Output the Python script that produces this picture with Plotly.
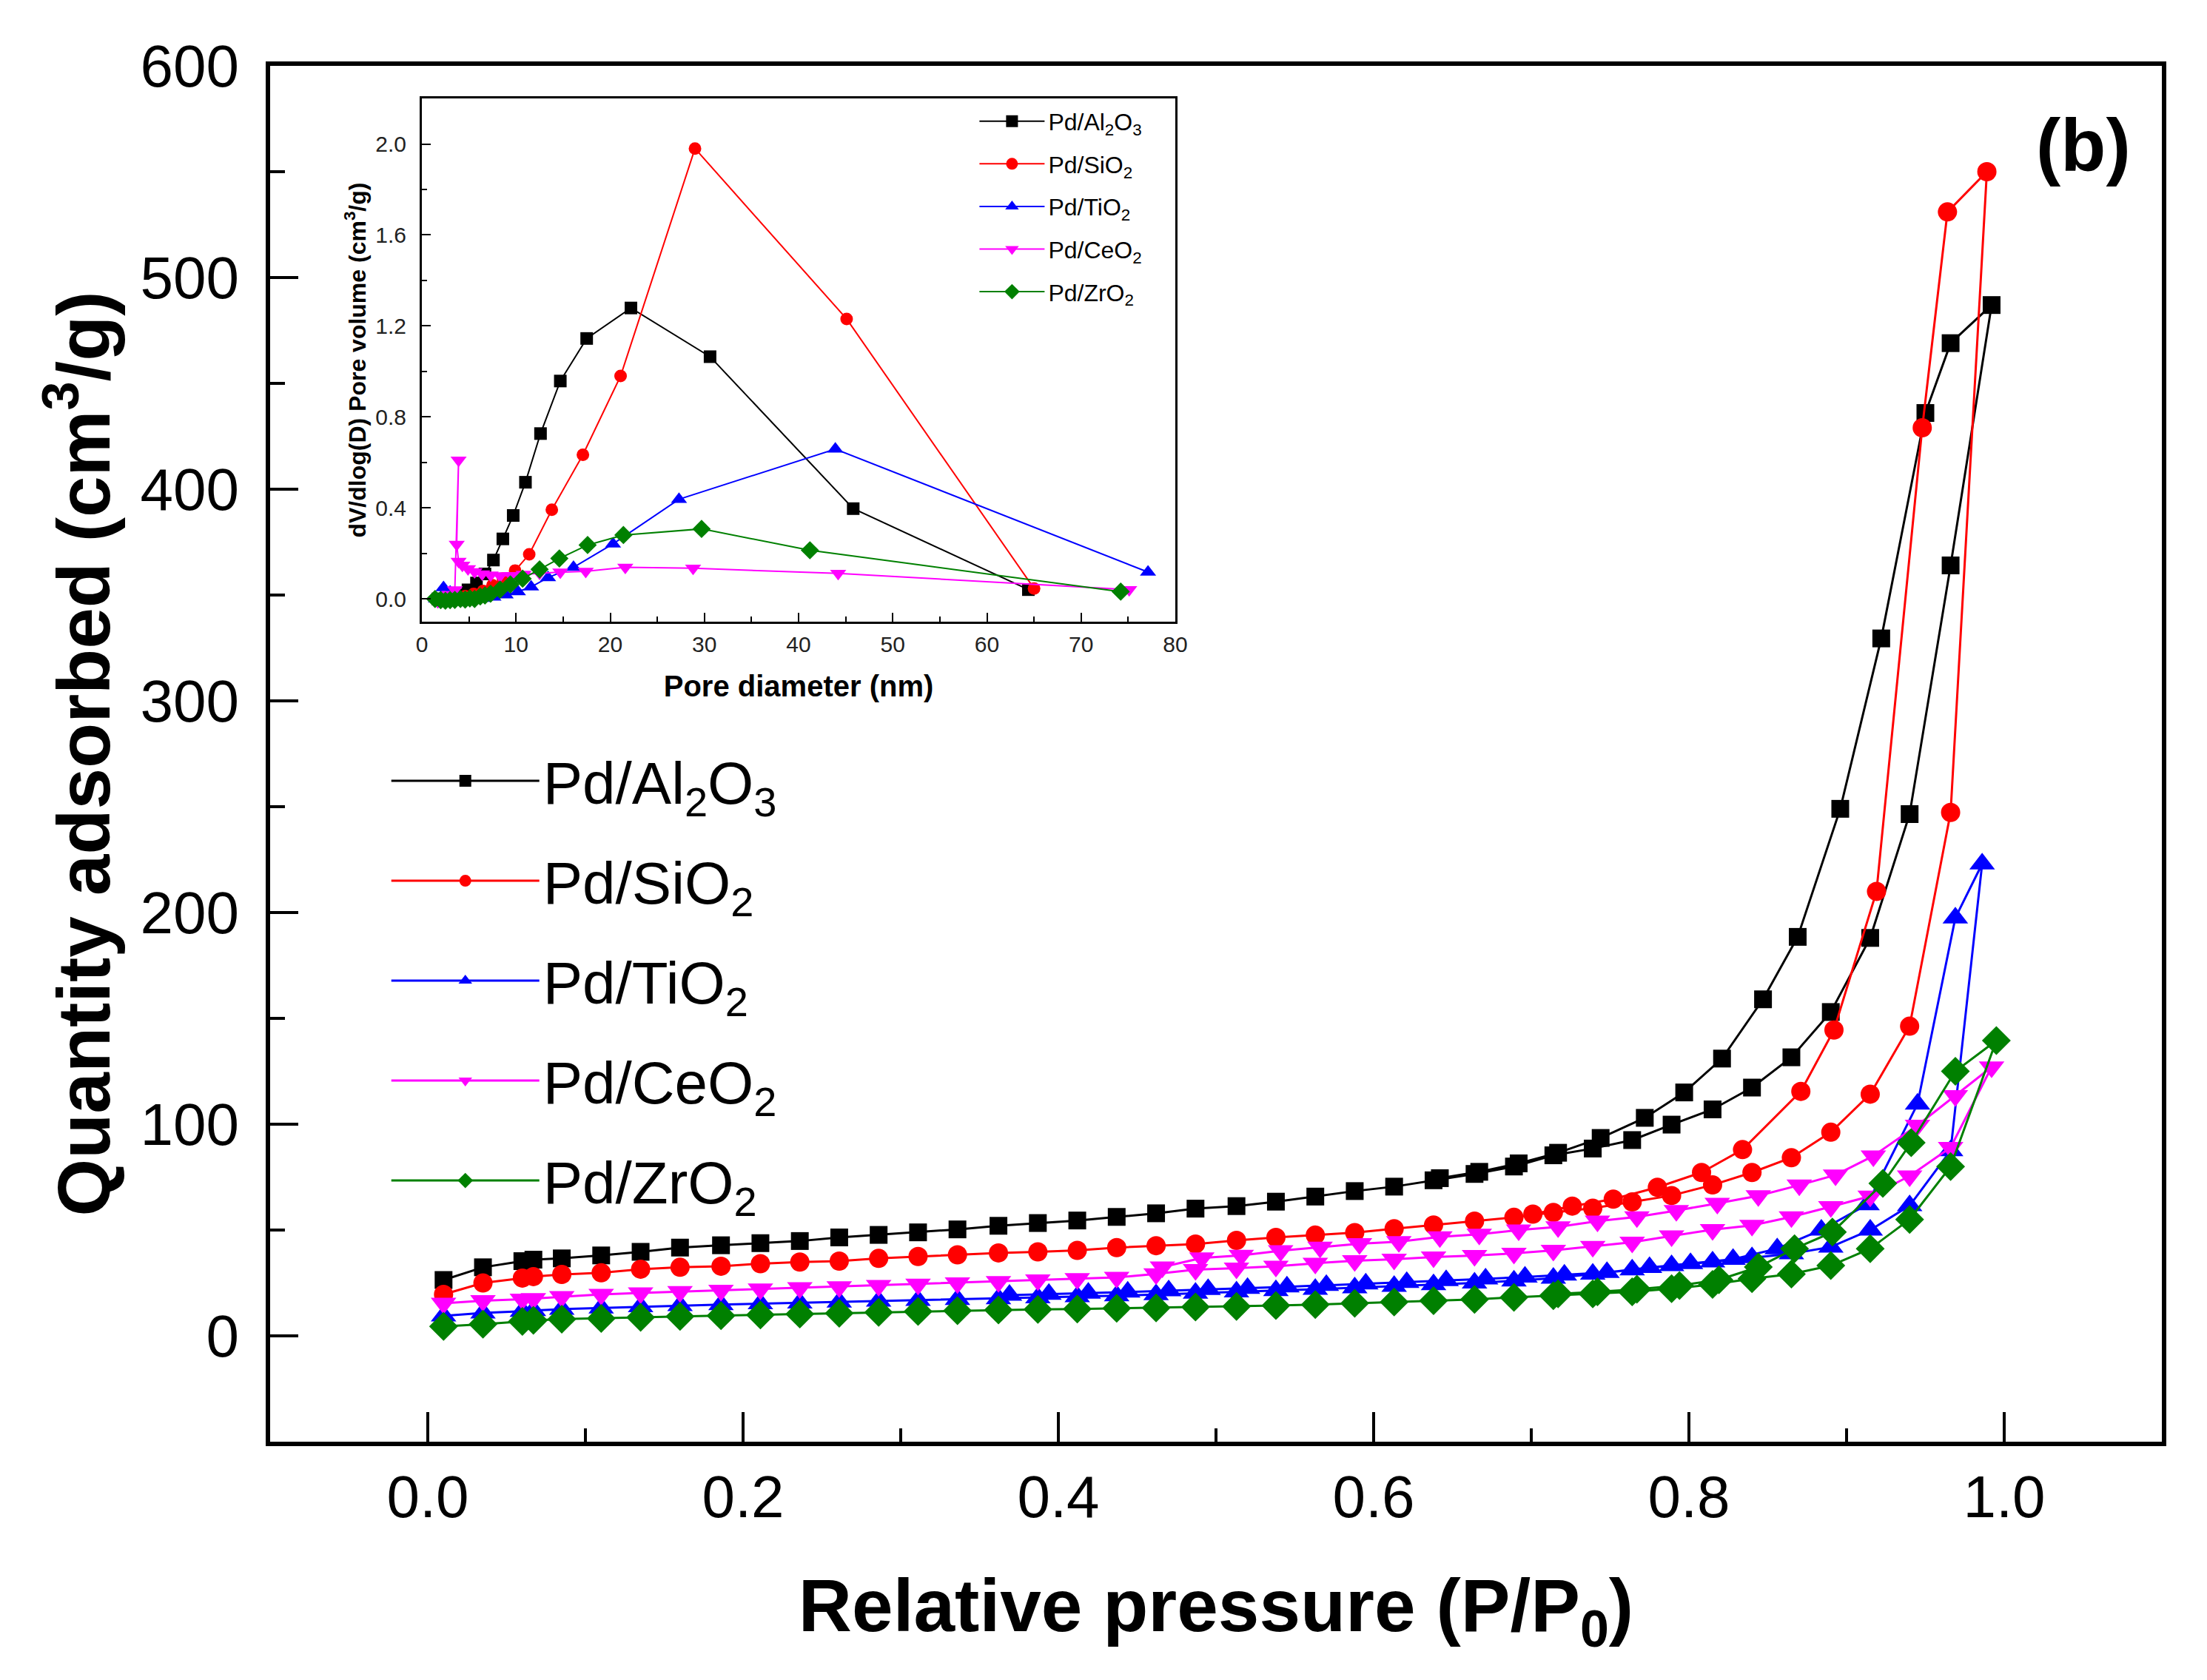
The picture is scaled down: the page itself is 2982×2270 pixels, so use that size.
import plotly.graph_objects as go

# ---------------- main isotherm data (P/P0, cm3/g) ----------------
P_grid = [0.010, 0.035, 0.060, 0.067, 0.085, 0.110, 0.135, 0.160, 0.186, 0.211, 0.236, 0.261, 0.286, 0.311,
          0.336, 0.362, 0.387, 0.412, 0.437, 0.462, 0.487, 0.513, 0.538, 0.563, 0.588, 0.613, 0.638, 0.664,
          0.689, 0.714, 0.739, 0.764, 0.789, 0.815, 0.840, 0.865, 0.890, 0.915, 0.940, 0.966]

P_ads_al = P_grid + [0.992]
V_ads_al = [26.4, 32.4, 35.3, 36, 36.6, 38, 39.7, 41.7, 42.8, 43.8, 44.8, 46.5, 47.7, 48.9,
            50.3, 52, 53.3, 54.5, 56.2, 57.9, 60.1, 61.3, 63.4, 65.8, 68.4, 70.5, 73.5, 76.5,
            80, 85.3, 88.5, 92.5, 99.8, 107, 117.3, 131.6, 153, 188, 246.5, 364, 487]
P_des_al = [0.966, 0.950, 0.922, 0.896, 0.869, 0.847, 0.821, 0.797, 0.772, 0.744, 0.717, 0.692, 0.667, 0.642]
V_des_al = [469, 436, 329.5, 249, 188.5, 159, 131, 115, 103, 93.5, 86.5, 81.5, 77.5, 74.5]

P_ads_si = P_grid + [0.989]
V_ads_si = [19.6, 25, 27.3, 28, 29, 29.8, 31.5, 32.4, 32.9, 34.1, 34.9, 35.3, 36.6, 37.5,
            38.3, 39.2, 39.7, 40.4, 41.7, 42.6, 43.4, 45.1, 46.5, 47.6, 48.8, 50.6, 52.4, 54.2,
            56, 58.3, 60.3, 63.3, 66.3, 71.3, 77.2, 84.2, 96.2, 114.2, 146.3, 247.3, 550]
P_des_si = [0.964, 0.948, 0.919, 0.892, 0.871, 0.834, 0.808, 0.780, 0.752, 0.726, 0.701]
V_des_si = [531, 429, 210, 144.5, 115.5, 88, 77.2, 70.2, 64.6, 61.3, 57.5]

P_ads_ti = P_grid + [0.986]
V_ads_ti = [9.4, 10.8, 11.6, 12, 12.6, 13.2, 13.8, 14.3, 14.8, 15.2, 15.6, 16, 16.4, 16.8,
            17.2, 17.6, 18, 18.5, 19, 19.5, 20.2, 20.8, 21.4, 22, 22.7, 23.4, 24.2, 25,
            26, 27.3, 29.2, 31.2, 33.2, 35, 37, 38.8, 42, 50, 61.5, 87.5, 223]
P_des_ti = [0.969, 0.945, 0.913, 0.884, 0.856, 0.828, 0.801, 0.775, 0.748, 0.721, 0.696, 0.671, 0.646, 0.621,
            0.595, 0.570, 0.545, 0.520, 0.495, 0.470, 0.444, 0.419, 0.394, 0.369]
V_des_ti = [197.5, 109.5, 62, 50, 41.2, 36.2, 34.2, 32.3, 30, 28.8, 27.8, 26.9, 26.1, 25.3,
            24.6, 23.9, 23.2, 22.5, 21.9, 21.3, 20.7, 20.2, 19.7, 19.2]

P_ads_ce = P_grid + [0.992]
V_ads_ce = [15.4, 16.6, 17.3, 17.6, 18.5, 19.6, 20.3, 20.9, 21.5, 22.1, 22.7, 23.2, 23.8, 24.4,
            25, 25.6, 26.4, 27, 27.6, 29.3, 31.3, 32, 32.9, 34.3, 35.5, 36.2, 37.2, 37.9,
            39, 40.4, 42.2, 44.2, 47.2, 50.2, 52.2, 56.2, 61, 66, 75.5, 89, 127]
P_des_ce = [0.969, 0.945, 0.917, 0.893, 0.870, 0.844, 0.818, 0.792, 0.767, 0.742, 0.717, 0.692, 0.667, 0.642,
            0.616, 0.591, 0.566, 0.541, 0.516, 0.491, 0.466]
V_des_ce = [113.5, 99.5, 85, 76, 71.2, 66.2, 62.6, 59.2, 56.2, 54.2, 51.5, 50, 48, 46.8,
            44.5, 43.5, 41.9, 40.2, 38, 36.8, 32.5]

P_ads_zr = P_grid + [0.995]
V_ads_zr = [4.5, 5.5, 6.8, 7.3, 7.9, 8.2, 8.7, 9.2, 9.5, 9.9, 10.3, 10.7, 11.1, 11.5,
            11.9, 12.2, 12.5, 12.7, 13, 13.2, 13.6, 13.9, 14.3, 14.8, 15.4, 16, 16.6, 17.2,
            18.2, 19, 19.8, 20.8, 22.3, 24.3, 27, 29.2, 33.2, 41.2, 55, 80, 139.5]
P_des_zr = [0.969, 0.941, 0.923, 0.891, 0.867, 0.844, 0.819, 0.794, 0.767, 0.742, 0.717]
V_des_zr = [125, 91.3, 72, 49, 41.2, 32.5, 26.5, 23.8, 22, 20.8, 19.8]

# ---------------- inset pore size distribution (nm, cm3/g) ----------------
D_al = [1.7, 2.3, 2.9, 3.5, 4.2, 4.9, 5.8, 6.7, 7.6, 8.6, 9.7, 11.0, 12.6, 14.7, 17.5, 22.2, 30.6, 45.8, 64.4]
dV_al = [0.0, 0.0, 0.003, 0.008, 0.018, 0.04, 0.07, 0.11, 0.171, 0.264, 0.367, 0.513, 0.727, 0.958, 1.145,
         1.279, 1.065, 0.397, 0.041]
D_si = [2.0, 2.5, 3.1, 3.8, 4.6, 5.5, 6.5, 7.5, 8.6, 9.9, 11.4, 13.8, 17.1, 21.1, 29.0, 45.1, 65.0]
dV_si = [-0.01, -0.005, 0.0, 0.005, 0.012, 0.022, 0.035, 0.06, 0.09, 0.125, 0.196, 0.392, 0.634, 0.98, 1.98,
         1.231, 0.046]
D_ti = [1.5, 2.3, 3.0, 3.8, 4.6, 5.5, 6.5, 7.6, 8.9, 10.2, 11.6, 13.4, 16.1, 20.3, 27.3, 43.9, 77.1]
dV_ti = [0.0, 0.05, 0.03, 0.012, 0.005, 0.002, 0.003, 0.008, 0.018, 0.032, 0.053, 0.094, 0.139, 0.242, 0.438,
         0.659, 0.118]
D_ce = [1.7, 2.3, 2.9, 3.5, 3.9, 3.7, 3.9, 4.3, 4.9, 5.6, 6.4, 7.3, 8.3, 9.5, 10.8, 12.5, 14.7, 17.4, 21.6,
        28.8, 44.2, 75.1]
dV_ce = [-0.012, 0.0, 0.02, 0.04, 0.61, 0.24, 0.165, 0.148, 0.133, 0.12, 0.11, 0.105, 0.102, 0.103, 0.108,
         0.113, 0.118, 0.121, 0.139, 0.135, 0.112, 0.041]
D_zr = [1.4, 2.0, 2.5, 3.0, 3.5, 4.1, 4.6, 5.1, 5.6, 6.2, 6.7, 7.3, 8.3, 9.4, 10.7, 12.5, 14.6, 17.6, 21.4,
        29.7, 41.2, 74.2]
dV_zr = [0.0, -0.005, -0.008, -0.005, -0.004, 0.0, -0.003, 0.002, 0.0, 0.011, 0.015, 0.023, 0.041, 0.064,
         0.089, 0.13, 0.178, 0.237, 0.281, 0.308, 0.214, 0.032]

names = ["Pd/Al<sub>2</sub>O<sub>3</sub>", "Pd/SiO<sub>2</sub>", "Pd/TiO<sub>2</sub>",
         "Pd/CeO<sub>2</sub>", "Pd/ZrO<sub>2</sub>"]
colors = ["#000000", "#FF0000", "#0000FF", "#FF00FF", "#008000"]
symbols = ["square", "circle", "triangle-up", "triangle-down", "diamond"]
main_sizes = [24, 26, 30, 30, 30]
inset_sizes = [17, 17, 19, 19, 19]

main_sets = [(P_ads_al, V_ads_al, P_des_al, V_des_al),
             (P_ads_si, V_ads_si, P_des_si, V_des_si),
             (P_ads_ti, V_ads_ti, P_des_ti, V_des_ti),
             (P_ads_ce, V_ads_ce, P_des_ce, V_des_ce),
             (P_ads_zr, V_ads_zr, P_des_zr, V_des_zr)]
inset_sets = [(D_al, dV_al), (D_si, dV_si), (D_ti, dV_ti), (D_ce, dV_ce), (D_zr, dV_zr)]

FONT = "Liberation Sans, Arial, sans-serif"

fig = go.Figure()
for i, (pa, va, pd_, vd) in enumerate(main_sets):
    fig.add_trace(go.Scatter(
        x=pa + pd_, y=va + vd, mode="lines+markers", name=names[i],
        line=dict(color=colors[i], width=3),
        marker=dict(symbol=symbols[i], size=main_sizes[i], color=colors[i]),
        xaxis="x", yaxis="y", legend="legend", legendgroup="m%d" % i))

for i, (dd, vv) in enumerate(inset_sets):
    fig.add_trace(go.Scatter(
        x=dd, y=vv, mode="lines+markers", name=names[i],
        line=dict(color=colors[i], width=2),
        marker=dict(symbol=symbols[i], size=inset_sizes[i], color=colors[i]),
        xaxis="x2", yaxis="y2", legend="legend2", legendgroup="i%d" % i))

axis_common = dict(showgrid=False, zeroline=False, showline=True, mirror=True,
                   linecolor="black", ticks="inside", tickcolor="black")

fig.update_layout(
    width=2982, height=2270,
    margin=dict(l=365, r=61, t=89, b=322),
    paper_bgcolor="white", plot_bgcolor="white",
    font=dict(family=FONT, color="black"),
    xaxis=dict(**axis_common, domain=[0, 1], anchor="y", range=[-0.1, 1.1],
               tick0=0, dtick=0.2, tickformat=".1f", ticklen=40, tickwidth=4, linewidth=6,
               minor=dict(dtick=0.1, ticklen=18, tickwidth=4, ticks="inside", tickcolor="black"),
               tickfont=dict(size=80, family=FONT, color="black"), ticklabelstandoff=0,
               title=dict(text="Relative pressure (P/P<sub>0</sub>)", standoff=70,
                          font=dict(size=100, family=FONT, weight="bold", color="black"))),
    yaxis=dict(**axis_common, domain=[0, 1], anchor="x", range=[-50, 600],
               tick0=0, dtick=100, ticklen=38, tickwidth=4, linewidth=6,
               minor=dict(dtick=50, ticklen=20, tickwidth=4, ticks="inside", tickcolor="black"),
               tickfont=dict(size=80, family=FONT, color="black"), ticklabelstandoff=20,
               title=dict(text="Quantity adsorbed (cm<sup>3</sup>/g)", standoff=10,
                          font=dict(size=100, family=FONT, weight="bold", color="black"))),
    xaxis2=dict(**axis_common, domain=[0.0802, 0.4785], anchor="y2", range=[0, 80],
                tick0=0, dtick=10, ticklen=12, tickwidth=2, linewidth=3,
                minor=dict(dtick=5, ticklen=7, tickwidth=2, ticks="inside", tickcolor="black"),
                tickfont=dict(size=30, family=FONT, color="#222222"), ticklabelstandoff=2,
                title=dict(text="Pore diameter (nm)", standoff=27,
                           font=dict(size=40, family=FONT, weight="bold", color="black"))),
    yaxis2=dict(**axis_common, domain=[0.596, 0.9763], anchor="x2", range=[-0.1, 2.2],
                tick0=0, dtick=0.4, tickformat=".1f", ticklen=12, tickwidth=2, linewidth=3,
                minor=dict(dtick=0.2, ticklen=7, tickwidth=2, ticks="inside", tickcolor="black"),
                tickfont=dict(size=30, family=FONT, color="#222222"), ticklabelstandoff=12,
                title=dict(text="dV/dlog(D) Pore volume (cm<sup>3</sup>/g)", standoff=4,
                           font=dict(size=32, family=FONT, weight="bold", color="black"))),
    legend=dict(x=0.0621, y=0.5118, xanchor="left", yanchor="top", bgcolor="rgba(0,0,0,0)",
                font=dict(size=80, family=FONT, color="black"), itemwidth=200,
                tracegroupgap=28, itemsizing="trace"),
    legend2=dict(x=0.373, y=0.9745, xanchor="left", yanchor="top", bgcolor="rgba(0,0,0,0)",
                 font=dict(size=32, family=FONT, color="black"), itemwidth=88,
                 tracegroupgap=13, itemsizing="trace"),
    annotations=[dict(text="(b)", xref="paper", yref="paper", x=0.9585, y=0.9424,
                      xanchor="center", yanchor="middle", showarrow=False,
                      font=dict(size=100, family=FONT, weight="bold", color="black"))],
    showlegend=True,
)

fig.write_html("out.html", include_plotlyjs=True, config={"displayModeBar": False},
               post_script="document.body.style.margin='0';document.body.style.overflow='hidden';")
